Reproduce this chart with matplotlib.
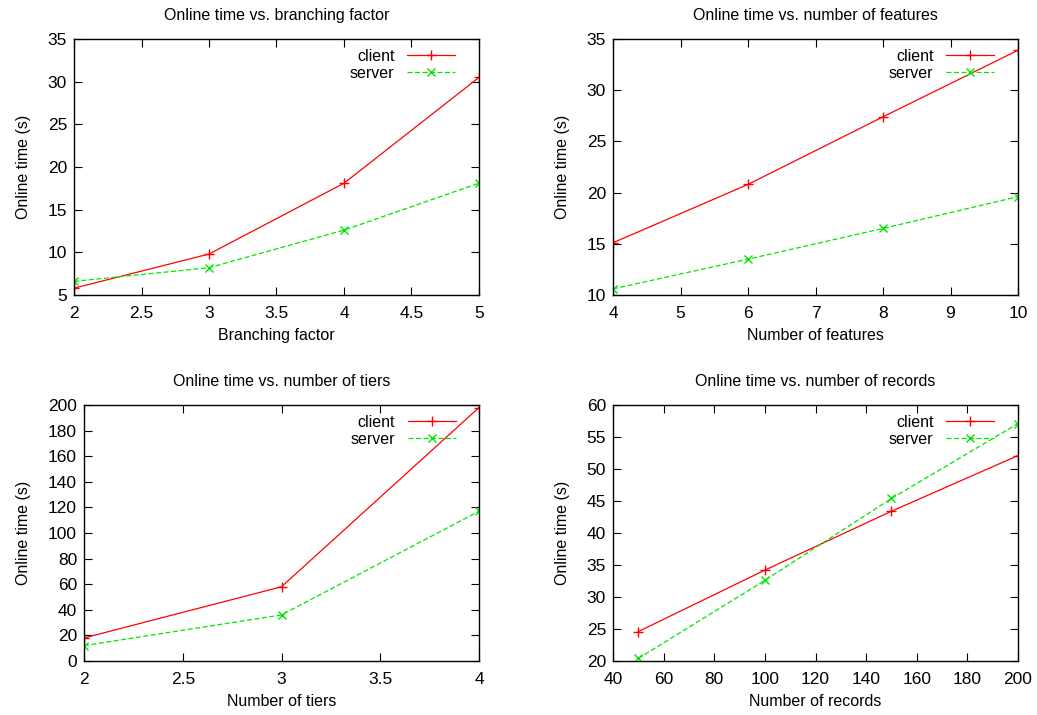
import matplotlib
matplotlib.use('Agg')
from matplotlib import pyplot as plt
from matplotlib.ticker import FormatStrFormatter

plt.rcParams['font.family'] = ['Liberation Sans', 'DejaVu Sans']
plt.rcParams['font.size'] = 11.5

# branching factor
branch_x = [2, 3, 4, 5]
branch_client = [5.8, 9.8, 18.1, 30.5]
branch_server = [6.6, 8.2, 12.6, 18.1]

# number of features
feat_x = [4, 6, 8, 10]
feat_client = [15.1, 20.8, 27.4, 33.9]
feat_server = [10.6, 13.5, 16.5, 19.6]

# number of tiers
tier_x = [2, 3, 4]
tier_client = [18, 58, 198]
tier_server = [12, 36, 117]

# number of records
rec_x = [50, 100, 150, 200]
rec_client = [24.6, 34.2, 43.4, 52.1]
rec_server = [20.4, 32.6, 45.4, 57.1]

fig = plt.figure(figsize=(10.37, 7.15), dpi=100)
W, H = 1037, 715

def panel(px, width, top, bottom, x, c, s, title, xlabel, xlim, ylim, xticks, yticks):
    ax = fig.add_axes([px / W, (H - bottom) / H, width / W, (bottom - top) / H])
    ax.plot(x, c, color='#ff0000', lw=0.9, marker='+', ms=7, mew=1, label='client')
    ax.plot(x, s, color='#00e600', lw=0.9, ls=(0, (4, 2)), marker='x', ms=6, mew=1, label='server')
    ax.set_xlim(xlim)
    ax.set_ylim(ylim)
    ax.set_xticks(xticks)
    ax.set_yticks(yticks)
    ax.xaxis.set_major_formatter(FormatStrFormatter('%g'))
    ax.tick_params(direction='in', top=True, right=True, length=6, width=0.8, labelsize=12.5)
    ax.tick_params(axis='x', pad=8)
    ax.tick_params(axis='y', pad=5)
    for sp in ax.spines.values():
        sp.set_linewidth(1.0)
    ax.set_title(title, fontsize=11.5, pad=14)
    ax.set_xlabel(xlabel, labelpad=5)
    ax.set_ylabel('Online time (s)', labelpad=12)
    ax.legend(loc='upper right', frameon=False, markerfirst=False, handlelength=3.0,
              borderaxespad=0.2, labelspacing=0.15, handletextpad=0.8,
              bbox_to_anchor=(0.965, 1.0))
    return ax

panel(74, 405, 39, 295, branch_x, branch_client, branch_server,
      'Online time vs. branching factor', 'Branching factor',
      (2, 5), (5, 35), [2, 2.5, 3, 3.5, 4, 4.5, 5], range(5, 36, 5))
panel(613, 405, 39, 295, feat_x, feat_client, feat_server,
      'Online time vs. number of features', 'Number of features',
      (4, 10), (10, 35), range(4, 11), range(10, 36, 5))
panel(84, 395, 405, 661, tier_x, tier_client, tier_server,
      'Online time vs. number of tiers', 'Number of tiers',
      (2, 4), (0, 200), [2, 2.5, 3, 3.5, 4], range(0, 201, 20))
panel(613, 405, 405, 661, rec_x, rec_client, rec_server,
      'Online time vs. number of records', 'Number of records',
      (40, 200), (20, 60), range(40, 201, 20), range(20, 61, 5))

fig.savefig('out.png', dpi=100)
